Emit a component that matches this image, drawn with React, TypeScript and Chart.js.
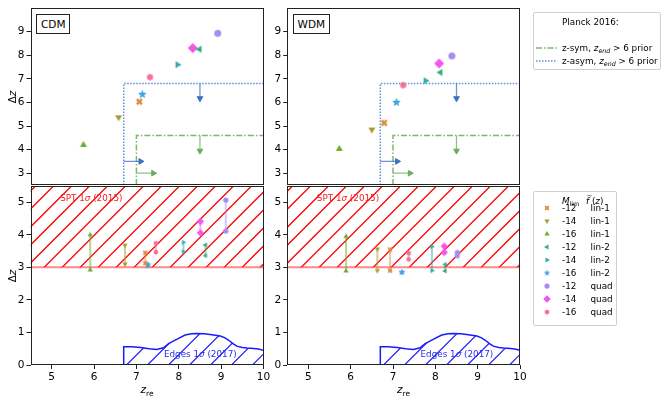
import { useEffect, useMemo, useRef } from 'react'
import { Chart, registerables } from 'chart.js'

Chart.register(...registerables)

const FONT = '"DejaVu Sans", sans-serif'

// one entry per model: faint-end magnitude limit and shape of f(z)
const mLim = ['-12', '-14', '-16', '-12', '-14', '-16', '-12', '-14', '-16']
const fShape = ['lin-1', 'lin-1', 'lin-1', 'lin-2', 'lin-2', 'lin-2', 'quad', 'quad', 'quad']
const colors = ['#e0893a', '#a99c2e', '#6cab30', '#31ad80', '#35abad', '#3ea4e6', '#a78cf2', '#f256ee', '#f4719a']
const markers = ['x', 'down', 'up', 'left', 'right', 'star', 'circle', 'diamond', 'hexagon']

// upper panels (z_re, Δz)
const cdmZre = [7.07, 6.58, 5.75, 8.49, 7.97, 7.14, 8.92, 8.33, 7.32]
const cdmDz = [6.03, 5.37, 4.2, 8.25, 7.6, 6.34, 8.93, 8.3, 7.07]
const wdmZre = [6.79, 6.5, 5.73, 8.12, 7.77, 7.08, 8.39, 8.09, 7.24]
const wdmDz = [5.13, 4.85, 4.03, 7.27, 6.92, 6.0, 7.97, 7.65, 6.73]

// lower panels: two points per model joined by a line
const cdmLowZre = [7.21, 6.73, 5.91, 8.63, 8.11, 7.27, 9.11, 8.51, 7.46]
const cdmLowDzA = [3.13, 3.1, 2.92, 3.36, 3.48, 3.05, 4.12, 4.06, 3.47]
const cdmLowDzB = [3.45, 3.68, 4.0, 3.69, 3.77, 3.09, 5.07, 4.41, 3.74]
const wdmLowZre = [6.93, 6.63, 5.89, 8.23, 7.92, 7.21, 8.52, 8.21, 7.37]
const wdmLowDzA = [2.9, 2.9, 2.89, 2.89, 2.9, 2.85, 3.36, 3.46, 3.25]
const wdmLowDzB = [3.55, 3.57, 3.95, 3.09, 3.64, 2.85, 3.46, 3.65, 3.44]

// Planck 2016 limits (upper panels)
const symZre = [7.0, 7.0, 10]
const symDz = [2.5, 4.6, 4.6]
const asymZre = [6.7, 6.7, 10]
const asymDz = [2.5, 6.8, 6.8]
const arrowFromZre = [8.5, 8.5, 6.7, 7.0]
const arrowFromDz = [6.8, 4.6, 3.5, 3.0]
const arrowToZre = [8.5, 8.5, 7.1, 7.4]
const arrowToDz = [6.17, 3.95, 3.5, 3.0]
const arrowKind = ['asym', 'sym', 'asym', 'sym']

// SPT band and EDGES contour (lower panels)
const sptBand = [3.0, 5.5]
const edgesZre = [6.7, 6.7, 6.9, 7.1, 7.3, 7.48, 7.64, 7.76, 7.95, 8.15, 8.3, 8.43, 8.6, 8.74, 8.98, 9.08, 9.18, 9.28, 9.37, 9.5, 9.61, 9.77, 9.88, 10, 10]
const edgesDz = [0, 0.56, 0.56, 0.54, 0.5, 0.48, 0.53, 0.66, 0.79, 0.92, 0.96, 0.97, 0.96, 0.94, 0.89, 0.84, 0.76, 0.66, 0.58, 0.54, 0.52, 0.51, 0.49, 0.45, 0]

const zreTicks = [5, 6, 7, 8, 9, 10]
const upperTicks = [3, 4, 5, 6, 7, 8, 9]
const lowerTicks = [0, 1, 2, 3, 4, 5]
const X_MIN = 4.5
const X_MAX = 10
const UPPER = [2.5, 10]
const LOWER = [0, 5.5]

const BLUE_LINE = '#5a8fdc'
const BLUE_ARROW = '#3d72c2'
const GREEN_LINE = '#7ab86e'
const GREEN_ARROW = '#6aad5e'
const SPT_RED = '#ff0000'
const EDGES_BLUE = '#1a1aff'

const markerSize: Record<string, number> = { x: 7, down: 8, up: 8, left: 8, right: 8, star: 9, circle: 7, diamond: 10, hexagon: 7 }

function makeMarker(shape: string, color: string, size: number) {
    const c = document.createElement('canvas')
    const s = Math.ceil(size + 2)
    c.width = s
    c.height = s
    const g = c.getContext('2d')!
    g.translate(s / 2, s / 2)
    g.fillStyle = color
    g.strokeStyle = color
    const r = size / 2
    const poly = (n: number, rot: number) => {
        g.beginPath()
        for (let i = 0; i < n; i++) {
            const a = rot + (i * 2 * Math.PI) / n
            g.lineTo(r * Math.cos(a), r * Math.sin(a))
        }
        g.closePath()
        g.fill()
    }
    switch (shape) {
        case 'circle':
            g.beginPath()
            g.arc(0, 0, r, 0, 2 * Math.PI)
            g.fill()
            break
        case 'up': poly(3, -Math.PI / 2); break
        case 'down': poly(3, Math.PI / 2); break
        case 'left': poly(3, Math.PI); break
        case 'right': poly(3, 0); break
        case 'diamond': poly(4, -Math.PI / 2); break
        case 'hexagon': poly(6, -Math.PI / 2); break
        case 'star': {
            g.beginPath()
            for (let i = 0; i < 10; i++) {
                const a = -Math.PI / 2 + (i * Math.PI) / 5
                const rr = i % 2 ? r * 0.45 : r
                g.lineTo(rr * Math.cos(a), rr * Math.sin(a))
            }
            g.closePath()
            g.fill()
            break
        }
        case 'x': {
            g.lineWidth = size * 0.36
            const q = r * 0.72
            g.beginPath()
            g.moveTo(-q, -q); g.lineTo(q, q)
            g.moveTo(q, -q); g.lineTo(-q, q)
            g.stroke()
            break
        }
    }
    return c
}

function alpha(hex: string, a: number) {
    const n = parseInt(hex.slice(1), 16)
    return `rgba(${(n >> 16) & 255},${(n >> 8) & 255},${n & 255},${a})`
}

// '/' hatching across the chart area; the caller clips it to a region
function stripes(ctx: CanvasRenderingContext2D, a: any, color: string, step: number, width: number) {
    const bottom = Math.round(a.bottom)
    const h = bottom - Math.round(a.top)
    ctx.strokeStyle = color
    ctx.lineWidth = width
    ctx.beginPath()
    for (let k = Math.floor((a.left - h) / step) * step; k < a.right + step; k += step) {
        ctx.moveTo(k + 0.5, bottom)
        ctx.lineTo(k + 0.5 + h, bottom - h)
    }
    ctx.stroke()
}

const hatchPlugin = {
    id: 'hatch',
    beforeDatasetsDraw(chart: any) {
        const { ctx, chartArea: a, scales: { x, y } } = chart
        ctx.save()
        ctx.beginPath()
        ctx.rect(a.left, a.top, a.right - a.left, a.bottom - a.top)
        ctx.clip()

        ctx.save()
        const yHi = Math.max(a.top, y.getPixelForValue(sptBand[1]))
        const yLo = y.getPixelForValue(sptBand[0])
        ctx.beginPath()
        ctx.rect(a.left, yHi, a.right - a.left, yLo - yHi)
        ctx.clip()
        stripes(ctx, a, SPT_RED, 18, 1.3)
        ctx.restore()

        ctx.beginPath()
        edgesZre.forEach((v, i) => ctx.lineTo(x.getPixelForValue(v), y.getPixelForValue(edgesDz[i])))
        ctx.closePath()
        ctx.clip()
        stripes(ctx, a, '#2020ff', 21, 1.2)
        ctx.restore()
    },
}

const framePlugin = {
    id: 'frame',
    afterDraw(chart: any) {
        const { ctx, chartArea: a } = chart
        ctx.save()
        ctx.strokeStyle = '#222'
        ctx.lineWidth = 1
        const l = Math.round(a.left) + 0.5, t = Math.round(a.top) + 0.5
        const r = Math.round(a.right) - 0.5, b = Math.round(a.bottom) - 0.5
        ctx.strokeRect(l, t, r - l, b - t)
        ctx.restore()
    },
}

type Part = [string, boolean]
type Note = { x: number; y: number; color: string; parts: Part[] }

function notesPlugin(notes: Note[]) {
    return {
        id: 'notes',
        afterDatasetsDraw(chart: any) {
            const { ctx, scales } = chart
            for (const n of notes) {
                let px = scales.x.getPixelForValue(n.x)
                const py = scales.y.getPixelForValue(n.y)
                ctx.save()
                ctx.fillStyle = n.color
                ctx.textBaseline = 'middle'
                for (const [text, italic] of n.parts) {
                    ctx.font = `${italic ? 'italic ' : ''}8.8px ${FONT}`
                    ctx.fillText(text, px, py)
                    px += ctx.measureText(text).width
                }
                ctx.restore()
            }
        },
    }
}

function axes(lower: boolean, yWidth: number) {
    const ticks = { color: '#000', font: { family: FONT, size: 10.5 }, padding: 2, maxRotation: 0, autoSkip: false }
    const grid = { drawOnChartArea: false, drawTicks: true, tickLength: 4, color: '#222', lineWidth: 1 }
    const yTicks = lower ? lowerTicks : upperTicks
    const range = lower ? LOWER : UPPER
    return {
        x: {
            type: 'linear', min: X_MIN, max: X_MAX, display: lower,
            afterBuildTicks: (s: any) => { s.ticks = zreTicks.map((value) => ({ value })) },
            afterFit: (s: any) => {
                if (lower) s.height = 20
                s.paddingLeft = 0
                s.paddingRight = 0
            },
            ticks, grid, border: { display: false },
        },
        y: {
            type: 'linear', min: range[0], max: range[1],
            afterBuildTicks: (s: any) => { s.ticks = yTicks.map((value) => ({ value })) },
            afterFit: (s: any) => {
                s.width = yWidth
                s.paddingTop = 0
                s.paddingBottom = 0
            },
            ticks, grid, border: { display: false },
        },
    }
}

const lineSet = (xs: number[], ys: number[], extra: any) => ({
    data: xs.map((x, i) => ({ x, y: ys[i] })),
    showLine: true,
    pointRadius: 0,
    ...extra,
})

function upperConfig(zre: number[], dz: number[], yWidth: number, padRight: number) {
    const datasets: any[] = zre.map((x, i) => ({
        data: [{ x, y: dz[i] }],
        pointStyle: makeMarker(markers[i], colors[i], markerSize[markers[i]]),
        pointRadius: 4,
        order: 0,
    }))
    datasets.push(lineSet(symZre, symDz, { borderColor: GREEN_LINE, borderWidth: 1.5, borderDash: [6, 2, 1.5, 2], order: 5 }))
    datasets.push(lineSet(asymZre, asymDz, { borderColor: BLUE_LINE, borderWidth: 1.5, borderDash: [1.5, 1.5], order: 5 }))
    arrowFromZre.forEach((x0, i) => {
        const c = arrowKind[i] === 'sym' ? GREEN_ARROW : BLUE_ARROW
        const down = arrowFromZre[i] === arrowToZre[i]
        datasets.push({
            data: [{ x: x0, y: arrowFromDz[i] }, { x: arrowToZre[i], y: arrowToDz[i] }],
            showLine: true,
            borderColor: alpha(c, 0.75),
            borderWidth: 1.3,
            pointStyle: 'triangle',
            pointRadius: [0, 3.3],
            pointRotation: [0, down ? 180 : 90],
            pointBackgroundColor: c,
            pointBorderColor: c,
            pointBorderWidth: 1,
            order: 3,
        })
    })
    return {
        type: 'scatter',
        data: { datasets },
        options: {
            animation: false, responsive: false, events: [],
            layout: { padding: { left: 0, right: padRight, top: 8, bottom: 4 } },
            plugins: { legend: { display: false }, tooltip: { enabled: false } },
            scales: axes(false, yWidth),
        },
        plugins: [framePlugin],
    }
}

function lowerConfig(zre: number[], dzA: number[], dzB: number[], yWidth: number, padRight: number) {
    const datasets: any[] = zre.map((x, i) => ({
        data: [{ x, y: dzA[i] }, { x, y: dzB[i] }],
        showLine: true,
        borderColor: alpha(colors[i], 0.5),
        borderWidth: 2,
        pointStyle: makeMarker(markers[i], colors[i], markerSize[markers[i]] * 0.75),
        pointRadius: 4,
        order: 0,
    }))
    datasets.push(lineSet([X_MIN, X_MAX], [sptBand[0], sptBand[0]], { borderColor: 'rgba(255,40,40,0.55)', borderWidth: 2, order: 6 }))
    datasets.push(lineSet(edgesZre.slice(0, -1), edgesDz.slice(0, -1), { borderColor: EDGES_BLUE, borderWidth: 1.5, order: 7 }))
    const notes: Note[] = [
        { x: 5.2, y: 5.1, color: '#f02020', parts: [['SPT 1', false], ['σ', true], [' (2015)', false]] },
        { x: 7.65, y: 0.31, color: '#2a2af0', parts: [['Edges 1', false], ['σ', true], [' (2017)', false]] },
    ]
    return {
        type: 'scatter',
        data: { datasets },
        options: {
            animation: false, responsive: false, events: [],
            layout: { padding: { left: 0, right: padRight, top: 6, bottom: 15 } },
            plugins: { legend: { display: false }, tooltip: { enabled: false } },
            scales: axes(true, yWidth),
        },
        plugins: [hatchPlugin, framePlugin, notesPlugin(notes)],
    }
}

type PanelProps = {
    left: number
    top: number
    width: number
    height: number
    build: () => any
}

function ChartPanel({ left, top, width, height, build }: PanelProps) {
    const canvasRef = useRef<HTMLCanvasElement | null>(null)
    useEffect(() => {
        if (!canvasRef.current) return
        const chart = new Chart(canvasRef.current, build())
        return () => chart.destroy()
    }, [build])
    return <canvas ref={canvasRef} width={width} height={height} style={{ position: 'absolute', left, top, width, height }} />
}

const buildCdmUpper = () => upperConfig(cdmZre, cdmDz, 30.5, 16.5)
const buildWdmUpper = () => upperConfig(wdmZre, wdmDz, 30.2, 27)
const buildCdmLower = () => lowerConfig(cdmLowZre, cdmLowDzA, cdmLowDzB, 30.5, 16.5)
const buildWdmLower = () => lowerConfig(wdmLowZre, wdmLowDzA, wdmLowDzB, 30.2, 27)

const abs = (left: number, top: number, extra: any = {}) => ({ position: 'absolute' as const, left, top, ...extra })

export default function App() {
    const icons = useMemo(() => markers.map((m, i) => makeMarker(m, colors[i], markerSize[m] * 0.75).toDataURL()), [])
    const boxLabel = { border: '1px solid #222', padding: '2px 4px', lineHeight: '14px', fontSize: 10.5, background: '#fff' }
    const rowStyle = { height: 12, lineHeight: '12px', whiteSpace: 'nowrap' as const }
    const sub = { fontSize: 6.3, position: 'relative' as const, top: 2 }

    return (
        <div style={{ position: 'fixed', left: 0, top: 0, width: 664, height: 400, background: '#fff', fontFamily: FONT, color: '#000', overflow: 'hidden' }}>
            <ChartPanel left={0} top={0} width={280} height={190} build={buildCdmUpper} />
            <ChartPanel left={0} top={180} width={280} height={220} build={buildCdmLower} />
            <ChartPanel left={257} top={0} width={290} height={190} build={buildWdmUpper} />
            <ChartPanel left={257} top={180} width={290} height={220} build={buildWdmLower} />

            <div style={abs(36, 14, boxLabel)}>CDM</div>
            <div style={abs(292.5, 14, boxLabel)}>WDM</div>

            {[97, 275.5].map((y) => (
                <div key={y} style={abs(11.5, y, { fontSize: 10.5, transform: 'translate(-50%, -50%) rotate(-90deg)', whiteSpace: 'nowrap' })}>
                    Δ<i>z</i>
                </div>
            ))}
            {[147, 403.6].map((x) => (
                <div key={x} style={abs(x, 389, { fontSize: 10.5, transform: 'translate(-50%, -50%)', whiteSpace: 'nowrap' })}>
                    <i>z</i><span style={{ fontSize: 7.5, position: 'relative', top: 2.5 }}>re</span>
                </div>
            ))}

            <div style={abs(533, 12, { width: 126, height: 56, border: '1px solid #d0d0d0', borderRadius: 2, fontSize: 8.8 })}>
                <div style={abs(28, 2.5, rowStyle)}>Planck 2016:</div>
                <svg style={abs(2, 29)} width={22} height={12}>
                    <line x1={0} y1={6} x2={21} y2={6} stroke={GREEN_LINE} strokeWidth={1.5} strokeDasharray="6 2 1.5 2" />
                </svg>
                <div style={abs(28, 29, rowStyle)}>
                    z-sym, <i>z</i><i style={sub}>end</i> &gt; 6 prior
                </div>
                <svg style={abs(2, 42)} width={22} height={12}>
                    <line x1={0} y1={6} x2={21} y2={6} stroke={BLUE_LINE} strokeWidth={1.5} strokeDasharray="1.5 1.5" />
                </svg>
                <div style={abs(28, 42, rowStyle)}>
                    z-asym, <i>z</i><i style={sub}>end</i> &gt; 6 prior
                </div>
            </div>

            <div style={abs(533, 191, { width: 82, height: 133, border: '1px solid #d0d0d0', borderRadius: 2, fontSize: 8.8 })}>
                <div style={abs(28, 3, rowStyle)}>
                    <i>M</i><span style={sub}>lim</span>
                </div>
                <div style={abs(52, 3, rowStyle)}>
                    <i style={{ position: 'relative' }}>
                        f<span style={{ position: 'absolute', left: 0.5, top: -6, fontSize: 7, fontStyle: 'normal' }}>~</span>
                    </i>
                    {'\u00a0'}(<i>z</i>)
                </div>
                {mLim.map((m, i) => (
                    <div key={i}>
                        <img src={icons[i]} style={abs(12.5, 16.3 + 12.9 * i, { transform: 'translate(-50%, -50%)' })} />
                        <div style={abs(28, 10.3 + 12.9 * i, rowStyle)}>{m}</div>
                        <div style={abs(56.5, 10.3 + 12.9 * i, rowStyle)}>{fShape[i]}</div>
                    </div>
                ))}
            </div>
        </div>
    )
}
